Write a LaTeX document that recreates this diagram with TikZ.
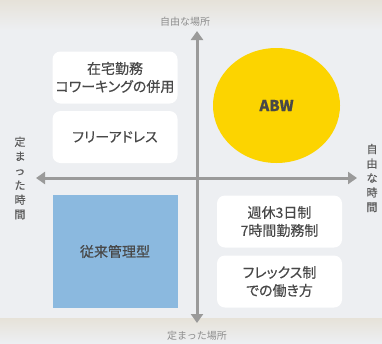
\documentclass[tikz,border=0pt]{standalone}
\usepackage{fontspec}
\setmainfont{Noto Sans CJK JP}
\newfontfamily\cardfont{Noto Sans CJK JP}[RawFeature=+palt, FakeBold=0.35]
\usetikzlibrary{shapes.geometric, arrows.meta}

\definecolor{bggray}{HTML}{EDEFF2}
\definecolor{bgtop}{HTML}{E6E2D9}
\definecolor{axisgray}{HTML}{9A9A9A}
\definecolor{labelgray}{HTML}{8E8E8E}
\definecolor{sidegray}{HTML}{5A5A5A}
\definecolor{textgray}{HTML}{484848}
\definecolor{abwyellow}{HTML}{FCD400}
\definecolor{oldblue}{HTML}{8BB9DF}

\tikzset{
	card/.style={rectangle, rounded corners=8pt, fill=white,
		minimum width=125pt, minimum height=52pt, inner sep=0pt,
		align=center, text=textgray, font=\cardfont\fontsize{14}{18}\selectfont},
	axis/.style={draw=axisgray, line width=3pt,
		{Triangle[length=9pt,width=12pt]}-{Triangle[length=9pt,width=12pt]}},
	axislabel/.style={text=labelgray, font=\fontsize{10}{14}\selectfont, align=center, inner sep=0pt},
	sidelabel/.style={text=sidegray, font=\cardfont\fontsize{11}{14.5}\selectfont, align=center, inner sep=0pt}
}

\begin{document}
\begin{tikzpicture}[x=1pt, y=-1pt]
					% background
					\fill[bggray] (0,0) rectangle (382,343);
					\shade[top color=bgtop, bottom color=bggray] (0,0) rectangle (382,30);
					\shade[top color=bgtop, bottom color=bggray] (0,343) rectangle (382,318);
					\useasboundingbox (0,0) rectangle (382,343);

					% axes
					\coordinate (top) at (197,31);
					\coordinate (bottom) at (197,323);
					\coordinate (left) at (36,178);
					\coordinate (right) at (357,178);
					\draw[axis] (bottom) -- (top);
					\draw[axis] (left) -- (right);

					\node[axislabel] (freeplace) at (185,22) {自由な場所};
					\node[axislabel] (fixedplace) at (197,336) {定まった場所};
					\node[sidelabel] (fixedtime) at (20,178) {定\\ま\\っ\\た\\時\\間};
					\node[sidelabel] (freetime) at (372,178) {自\\由\\な\\時\\間};

					% quadrants
					\node[card] (remote) at (115,77.5) {在宅勤務\\コワーキングの併用};
					\node[card] (freeaddr) at (115,137) {フリーアドレス};

					\node[ellipse,
						fill=abwyellow,
						minimum width=127pt,
						minimum height=115pt,
						inner sep=0pt,
						text=textgray,
						font=\cardfont\fontsize{15}{17}\selectfont\bfseries
					] (abw) at (276.5,105.5) {ABW};

					\node[rectangle,
						fill=oldblue,
						minimum width=125pt,
						minimum height=113pt,
						inner sep=0pt,
						text=textgray,
						font=\cardfont\fontsize{14}{18}\selectfont
					] (classic) at (115,251.5) {従来管理型};

					\node[card] (fourday) at (279.5,221.5) {週休3日制\\7時間勤務制};
					\node[card] (flex) at (279.5,281.5) {フレックス制\\での働き方};
				\end{tikzpicture}
\end{document}
